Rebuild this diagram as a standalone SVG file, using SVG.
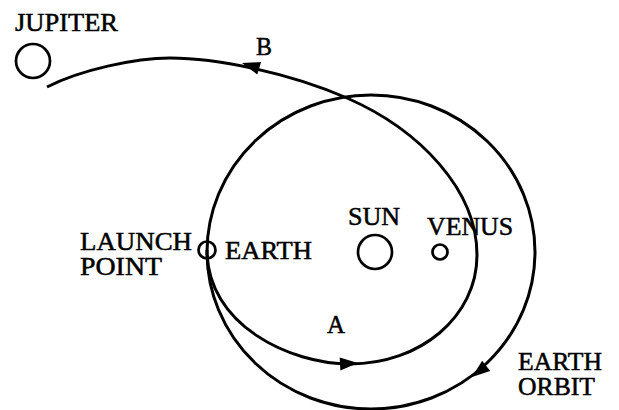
<svg xmlns="http://www.w3.org/2000/svg" width="619" height="410" viewBox="0 0 619 410">
<style>
  .ln { fill: none; stroke: #000; stroke-width: 3; }
  .body { fill: none; stroke: #000; stroke-width: 2.7; }
  .lbl { font-family: "Liberation Serif", "Times New Roman", serif; font-size: 25px; fill: #000; stroke: #000; stroke-width: 0.5; }
  .ah { fill: #000; stroke: none; }
</style>
<defs>
  <path id="arrowhead" class="ah" d="M0,0 L-18,-6.5 L-18,6.5 Z"/>
</defs>
<rect width="619" height="410" fill="#fff"/>

<g id="connectors">
  <ellipse id="earth-orbit" class="ln" cx="371" cy="252" rx="164" ry="157"/>
  <path id="transfer-orbit" class="ln" d="M207,250 C207,325 290,364 350,364 C420,364 477,317 477,255 C477,190 420,130 347,98 C287,72 215,58 170,58 C135,58 80,70 47,87"/>
  <use href="#arrowhead" transform="translate(358,363) rotate(-3)"/>
  <use href="#arrowhead" transform="translate(242,63) rotate(197)"/>
  <use href="#arrowhead" transform="translate(472,377) rotate(142)"/>
</g>

<g id="jupiter">
  <circle class="body" cx="33" cy="61" r="17"/>
  <text class="lbl" x="15" y="31" textLength="103" lengthAdjust="spacingAndGlyphs">JUPITER</text>
</g>

<g id="sun">
  <circle class="body" cx="375" cy="252" r="17"/>
  <text class="lbl" x="348" y="225" textLength="52" lengthAdjust="spacingAndGlyphs">SUN</text>
</g>

<g id="venus">
  <circle class="body" cx="440" cy="252" r="7.5"/>
  <text class="lbl" x="427" y="235" textLength="86" lengthAdjust="spacingAndGlyphs">VENUS</text>
</g>

<g id="earth">
  <circle class="body" cx="207" cy="250" r="8.5"/>
  <text class="lbl" x="225" y="259" textLength="87" lengthAdjust="spacingAndGlyphs">EARTH</text>
</g>

<g id="launch-point">
  <text class="lbl" x="80" y="250" textLength="112" lengthAdjust="spacingAndGlyphs">LAUNCH</text>
  <text class="lbl" x="80" y="275" textLength="82" lengthAdjust="spacingAndGlyphs">POINT</text>
</g>

<g id="label-a">
  <text class="lbl" x="327" y="333" textLength="18" lengthAdjust="spacingAndGlyphs">A</text>
</g>

<g id="label-b">
  <text class="lbl" x="256" y="55" textLength="16" lengthAdjust="spacingAndGlyphs">B</text>
</g>

<g id="earth-orbit-label">
  <text class="lbl" x="518" y="370" textLength="84" lengthAdjust="spacingAndGlyphs">EARTH</text>
  <text class="lbl" x="518" y="395" textLength="77" lengthAdjust="spacingAndGlyphs">ORBIT</text>
</g>
</svg>
